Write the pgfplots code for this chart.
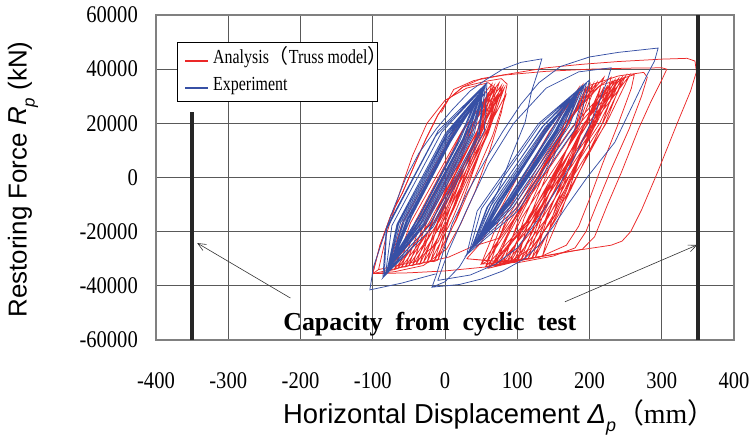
\documentclass[border=0pt]{standalone}
\usepackage{fontspec}
\setmainfont{Liberation Serif}
\newfontfamily\condserif{Liberation Serif}[FakeStretch=0.86]
\newfontfamily\legserif{Liberation Serif}[FakeStretch=0.8]
\newfontfamily\arial{Liberation Sans}
\newfontfamily\cjk{Noto Sans CJK JP}
\usepackage{pgfplots}
\pgfplotsset{compat=1.18}
\usetikzlibrary{arrows.meta}
\definecolor{anred}{RGB}{235,40,40}
\definecolor{exblue}{RGB}{55,80,165}
\begin{document}
\begin{tikzpicture}
\path[use as bounding box] (-156bp,-96bp) rectangle (598bp,340bp);
\begin{axis}[
  scale only axis, width=578bp, height=325bp,
  xmin=-400, xmax=400, ymin=-60000, ymax=60000,
  scaled ticks=false,
  xtick={-400,-300,-200,-100,0,100,200,300,400},
  ytick={-60000,-40000,-20000,0,20000,40000,60000},
  xticklabels={-400,-300,-200,-100,0,100,200,300,400},
  yticklabels={-60000,-40000,-20000,0,20000,40000,60000},
  grid=major,
  major grid style={draw=black!65, line width=0.8bp},
  axis line style={draw=gray, line width=1.2bp},
  major tick length=0pt,
  tick label style={font=\condserif\fontsize{24}{24}\selectfont},
  xticklabel style={anchor=north, inner sep=0pt, yshift=-32bp},
  yticklabel style={anchor=east, inner sep=0pt, xshift=-18bp},
  clip=false,
]
% ---------------- Analysis (red) ----------------
\addplot[anred, line width=0.75bp, forget plot] coordinates {
(-80,-34500) (-27.75,-17250) (44.75,17250) (65,34500) (12.75,17250) (-59.75,-17250) (-80,-34500)
(-70,-34000) (-19.75,-16750) (52.75,17750) (75,35000) (24.75,17750) (-47.75,-16750) (-70,-34000)
(-65,-33500) (-21.75,-16600) (44.75,17100) (68,34000) (24.75,17100) (-41.75,-16600) (-65,-33500)
(-60,-33000) (-13.5,-16250) (55.5,17250) (78,34000) (31.5,17250) (-37.5,-16250) (-60,-33000)
(-55,-33000) (-14.75,-16500) (47.75,16500) (70,33000) (29.75,16500) (-32.75,-16500) (-55,-33000)
(-50,-32500) (-7.5,-16000) (57.5,17000) (80,33500) (37.5,17000) (-27.5,-16000) (-50,-32500)
(-45,-32500) (-9.25,-16250) (46.25,16250) (66,32500) (30.25,16250) (-25.25,-16250) (-45,-32500)
(-40,-32000) (-1.5,-15750) (59.5,16750) (82,33000) (43.5,16750) (-17.5,-15750) (-40,-32000)
(-35,-32000) (-4.75,-16000) (43.75,16000) (62,32000) (31.75,16000) (-16.75,-16000) (-35,-32000)
(-30,-31500) (4.5,-15600) (59.5,16100) (80,32000) (45.5,16100) (-9.5,-15600) (-30,-31500)
(-25,-31500) (1.25,-15750) (43.75,15750) (60,31500) (33.75,15750) (-8.75,-15750) (-25,-31500)
(-20,-31000) (10,-15500) (58,15500) (76,31000) (46,15500) (-2,-15500) (-20,-31000)
(-15,-31000) (16,-15500) (66,15500) (85,31000) (54,15500) (4,-15500) (-15,-31000)
(-10,-30500) (15.5,-15250) (56.5,15250) (72,30500) (46.5,15250) (5.5,-15250) (-10,-30500)
};
\addplot[anred, line width=0.75bp, forget plot] coordinates {
(-100,-35500) (-90,-25000) (-75,-14000) (-59,-5700) (-40,6000) (-26.5,14200) (-10,23000) (5,29000) (25,33500) (56,35500) (78,36500) (86,34500) (78,24000) (62,10000) (42,-5000) (22,-17000) (2,-26500) (-30,-32500) (-70,-34800) (-100,-35500)
(-92,-34000) (-80,-20000) (-62,-5000) (-45,8000) (-25,20000) (0,28500) (30,33000) (60,35000) (70,33000) (55,20000) (35,5000) (15,-10000) (-10,-24000) (-40,-31000) (-92,-34000)
};
\addplot[anred, line width=0.75bp, forget plot] coordinates {
(-100,-35500) (-40,-32000) (5,-29400) (37,-25600) (74,-22500) (95,-14000) (120,-2000) (150,12000) (180,24000) (210,33000) (230,37000) (225,32000) (200,15000) (175,0) (150,-15000) (120,-26000) (90,-31000) (56,-33000)
};
\addplot[anred, line width=0.75bp, forget plot] coordinates {
(-100,-35500) (-90,-25000) (-75,-14000) (-59,-5700) (-40,6000) (-26.5,14200) (-10,23000) (5,29000) (25,33500) (50,36500) (79,37800) (140,40500) (190,41800) (239,42800) (300,43700) (335,44000) (346,43000) (348,39000) (340,32000) (322,20400) (294,1800) (272,-12000) (257,-20000) (245,-23500) (230,-25000) (200,-26200) (169,-27400) (120,-29800) (58,-33000) (0,-34500) (-50,-35200) (-100,-35500)
};
\addplot[anred, line width=0.75bp, forget plot] coordinates {
(-5,24000) (12,32500) (40,35800) (81,37800) (140,39200) (201,40000) (260,40400) (300,40500) (307,40000) (300,36000) (285,28000) (268,18000) (244,1800) (225,-10000) (207,-21900) (190,-26500) (150,-28500) (100,-30500) (58,-32000)
};
\addplot[anred, line width=0.75bp, forget plot] coordinates {
(30,-30000) (50,-24000) (80,-10000) (110,5000) (140,18000) (170,28000) (200,34000) (240,37500) (275,38800) (280,37000) (272,30000) (255,18000) (230,3000) (210,-10000) (195,-20000) (180,-26000) (150,-29000) (100,-31500) (30,-30000)
(70,-31000) (90,-20000) (120,-5000) (150,10000) (180,24000) (215,34000) (262,38000) (258,33000) (240,20000) (218,5000) (200,-8000) (185,-18000) (168,-25000) (130,-29500) (70,-31000)
};
\addplot[anred, line width=0.75bp, forget plot] coordinates {
(56,-33000) (114.75,-15750) (204.25,18750) (235,36000) (176.25,18750) (86.75,-15750) (56,-33000)
(65,-32500) (120.75,-15250) (208.25,19250) (240,36500) (184.25,19250) (96.75,-15250) (65,-32500)
(75,-32000) (128.5,-14750) (213.5,19750) (245,37000) (191.5,19750) (106.5,-14750) (75,-32000)
(85,-31500) (136.25,-14250) (218.75,20250) (250,37500) (198.75,20250) (116.25,-14250) (85,-31500)
(95,-31000) (144,-13900) (224,20400) (255,37500) (206,20400) (126,-13900) (95,-31000)
(105,-30500) (144.25,-14100) (206.75,18600) (230,35000) (190.75,18600) (128.25,-14100) (105,-30500)
(115,-30000) (149.5,-14000) (204.5,18000) (225,34000) (190.5,18000) (135.5,-14000) (115,-30000)
(125,-29500) (154.75,-13750) (202.25,17750) (220,33500) (190.25,17750) (142.75,-13750) (125,-29500)
(135,-29000) (160,-13500) (200,17500) (215,33000) (190,17500) (150,-13500) (135,-29000)
(70,-32500) (115,-15600) (185,18100) (210,35000) (165,18100) (95,-15600) (70,-32500)
(80,-32000) (120.25,-15400) (182.75,17900) (205,34500) (164.75,17900) (102.25,-15400) (80,-32000)
(90,-31500) (125.5,-15100) (180.5,17600) (200,34000) (164.5,17600) (109.5,-15100) (90,-31500)
(100,-31000) (131,-14900) (179,17400) (196,33500) (165,17400) (117,-14900) (100,-31000)
(60,-33500) (116,-15900) (196,19400) (220,37000) (164,19400) (84,-15900) (60,-33500)
(110,-30000) (153.75,-13500) (221.25,19500) (245,36000) (201.25,19500) (133.75,-13500) (110,-30000)
(120,-30000) (157.5,-13600) (216.5,19100) (238,35500) (200.5,19100) (141.5,-13600) (120,-30000)
(50,-32000) (95,-15500) (165,17000) (190,34000) (145,17000) (75,-15500) (50,-32000)
(58,-31000) (97.75,-15000) (161.25,17000) (185,33000) (145.25,17000) (81.75,-15000) (58,-31000)
};
% ---------------- Experiment (blue) ----------------
\addplot[exblue, line width=0.75bp, forget plot] coordinates {
(-82,-35000) (-21.5,-17750) (47.5,16750) (56,34000) (-4.5,16750) (-73.5,-17750) (-82,-35000)
(-80,-34000) (-26.5,-17250) (40.5,16250) (54,33000) (0.5,16250) (-66.5,-17250) (-80,-34000)
(-78,-33000) (-29.5,-16750) (35.5,15750) (52,32000) (3.5,15750) (-61.5,-16750) (-78,-33000)
(-76,-32000) (-32.5,-16250) (30.5,15250) (50,31000) (6.5,15250) (-56.5,-16250) (-76,-32000)
(-74,-31000) (-33.5,-15750) (27.5,14750) (48,30000) (7.5,14750) (-53.5,-15750) (-74,-31000)
(-72,-30000) (-34.5,-15250) (24.5,14250) (46,29000) (8.5,14250) (-50.5,-15250) (-72,-30000)
(-70,-29000) (-35.75,-14750) (20.75,13750) (43,28000) (8.75,13750) (-47.75,-14750) (-70,-29000)
(-84,-36000) (-16.5,-18250) (54.5,17250) (58,35000) (-9.5,17250) (-80.5,-18250) (-84,-36000)
(-79,-33500) (-28,-17000) (38,16000) (53,32500) (2,16000) (-64,-17000) (-79,-33500)
(-75,-31500) (-30,-16000) (32,15000) (49,30500) (4,15000) (-58,-16000) (-75,-31500)
(-68,-28000) (-36,-14250) (18,13250) (40,27000) (8,13250) (-46,-14250) (-68,-28000)
(-86,-37000) (-21.5,-19500) (47.5,15500) (52,33000) (-12.5,15500) (-81.5,-19500) (-86,-37000)
(-77,-34000) (-22,-17750) (44,14750) (55,31000) (0,14750) (-66,-17750) (-77,-34000)
(-73,-30500) (-34,-15500) (26,14500) (47,29500) (8,14500) (-52,-15500) (-73,-30500)
};
\addplot[exblue, line width=0.75bp, forget plot] coordinates {
(37,-26000) (94,-11000) (172,19000) (193,34000) (136,19000) (58,-11000) (37,-26000)
(40,-25000) (91.5,-10500) (166.5,18500) (190,33000) (138.5,18500) (63.5,-10500) (40,-25000)
(43,-24000) (89.75,-10000) (161.25,18000) (186,32000) (139.25,18000) (67.75,-10000) (43,-24000)
(46,-23000) (88,-9500) (156,17500) (182,31000) (140,17500) (72,-9500) (46,-23000)
(49,-22000) (87.25,-9000) (151.75,17000) (178,30000) (139.75,17000) (75.25,-9000) (49,-22000)
(52,-21000) (86.5,-8500) (147.5,16500) (174,29000) (139.5,16500) (78.5,-8500) (52,-21000)
(34,-27000) (98.5,-11500) (179.5,19500) (196,35000) (131.5,19500) (50.5,-11500) (34,-27000)
(55,-20000) (86.75,-8000) (144.25,16000) (170,28000) (138.25,16000) (80.75,-8000) (55,-20000)
(38,-25500) (91.5,-10750) (166.5,18750) (188,33500) (134.5,18750) (59.5,-10750) (38,-25500)
(44,-23500) (89,-9750) (159,18000) (184,31500) (139,18000) (69,-9750) (44,-23500)
(30,-28500) (100.5,-12400) (185.5,19900) (200,36000) (129.5,19900) (44.5,-12400) (30,-28500)
(48,-22500) (88,-9250) (154,17250) (180,30500) (140,17250) (74,-9250) (48,-22500)
};
\addplot[exblue, line width=0.75bp, forget plot] coordinates {
(-13,-35600) (-60,-39000) (-104,-41500) (-99,-33000) (-85,-22000) (-72,-12000) (-54,0) (-36,9000) (-12,18000) (10,25000) (35,32000) (56,36000) (80,40000) (105,42500) (134,43800) (131,41000) (120,32000) (111,20500) (92,8000) (74,-4500) (55,-15000) (37,-25500) (20,-33000) (0,-38500) (-18,-40500) (-12,-36000) (-2,-27000) (10,-17000) (30,-6000) (55,6000) (80,17000) (105,27000) (130,35000) (160,41000) (200,44500) (240,46200) (295,47800) (290,43000) (280,38000) (262,28000) (235,13000) (198,500) (170,-10000) (150,-18000) (130,-25000) (110,-30000) (80,-34500) (50,-37500) (20,-39500) (-18,-40500)
};
\addplot[exblue, line width=0.75bp, forget plot] coordinates {
(-10,-38000) (5,-27000) (30,-12000) (60,5000) (95,20000) (140,33000) (185,39000) (230,40500) (225,36000) (205,22000) (184,10000) (160,-2000) (130,-15000) (100,-26000) (70,-32000) (35,-36000) (-10,-38000)
};
% ---------------- capacity lines ----------------
\addplot[black!85, line width=3.5bp, forget plot] coordinates {(-350,-60000) (-350,24200)};
\addplot[black!85, line width=3.5bp, forget plot] coordinates {(350,-60000) (350,60000)};
\draw[black!80, line width=0.6bp, -{Straight Barb[length=8bp,width=7bp]}] (axis cs:-214,-44500) -- (axis cs:-343,-24200);
\draw[black!80, line width=0.6bp, -{Straight Barb[length=8bp,width=7bp]}] (axis cs:166,-45900) -- (axis cs:349,-24900);
\node[anchor=base, font=\bfseries\fontsize{26}{26}\selectfont, inner sep=0pt] at (axis cs:-21,-56600) {Capacity\hspace{0.5em}from\hspace{0.5em}cyclic\hspace{0.5em}test};
% ---------------- legend (drawn box) ----------------
\filldraw[fill=white, draw=black, line width=0.8bp] (rel axis cs:0.0363,0.7354) rectangle (rel axis cs:0.3824,0.9169);
\draw[anred, line width=1.1bp] (rel axis cs:0.0502,0.8585) -- (rel axis cs:0.0900,0.8585);
\draw[exblue, line width=1.1bp] (rel axis cs:0.0502,0.7754) -- (rel axis cs:0.0900,0.7754);
\node[anchor=mid west, inner sep=0pt, font=\legserif\fontsize{20}{20}\selectfont] at (rel axis cs:0.0986,0.8585) {Analysis{\cjk （}Truss model{\cjk ）}};
\node[anchor=mid west, inner sep=0pt, font=\legserif\fontsize{20}{20}\selectfont] at (rel axis cs:0.0986,0.7754) {Experiment};
% ---------------- axis labels ----------------
\node[anchor=base west, inner sep=0pt] at ([xshift=127bp, yshift=-83bp]rel axis cs:0,0)
  {\fontsize{27.5}{27.5}\selectfont\arial Horizontal Displacement \textit{Δ}\raisebox{-0.3em}{\fontsize{18}{18}\selectfont\itshape p}\fontsize{28}{28}\selectfont{\cjk （}\rmfamily mm{\cjk ）}};
\node[rotate=90, anchor=center, inner sep=0pt] at ([xshift=-133bp]rel axis cs:0,0.494)
  {\fontsize{26}{26}\selectfont\arial Restoring Force \textit{R}\raisebox{-0.3em}{\fontsize{17}{17}\selectfont\itshape p} (kN)};
\end{axis}
\end{tikzpicture}
\end{document}
